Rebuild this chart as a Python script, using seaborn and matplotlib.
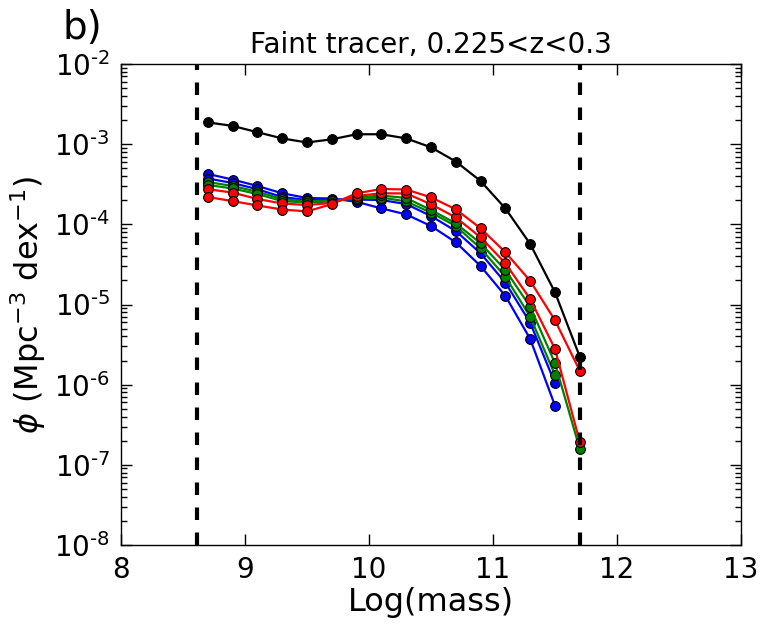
import numpy as np
import pandas as pd
import seaborn as sns
import matplotlib
matplotlib.use("Agg")
import matplotlib.pyplot as plt
import matplotlib.ticker as ticker

# mass bins (log M)
log_mass = [8.7, 8.9, 9.1, 9.3, 9.5, 9.7, 9.9, 10.1, 10.3, 10.5, 10.7, 10.9, 11.1, 11.3, 11.5, 11.7]

# mass functions (Mpc^-3 dex^-1)
phi_all = [1.87e-3, 1.69e-3, 1.41e-3, 1.18e-3, 1.05e-3, 1.15e-3, 1.33e-3, 1.33e-3,
           1.18e-3, 9.14e-4, 6.08e-4, 3.47e-4, 1.58e-4, 5.69e-5, 1.42e-5, 2.23e-6]
phi_blue1 = [4.25e-4, 3.62e-4, 3.01e-4, 2.44e-4, 2.13e-4, 2.10e-4, 1.91e-4, 1.58e-4,
             1.33e-4, 9.53e-5, 5.97e-5, 3.02e-5, 1.28e-5, 3.72e-6, 5.47e-7, np.nan]
phi_blue2 = [3.73e-4, 3.28e-4, 2.74e-4, 2.19e-4, 2.01e-4, 2.04e-4, 2.04e-4, 2.01e-4,
             1.79e-4, 1.27e-4, 8.26e-5, 4.35e-5, 1.87e-5, 5.93e-6, 1.04e-6, np.nan]
phi_green1 = [3.37e-4, 3.01e-4, 2.55e-4, 2.07e-4, 1.93e-4, 1.98e-4, 2.10e-4, 2.16e-4,
              1.93e-4, 1.40e-4, 9.53e-5, 5.02e-5, 2.22e-5, 7.05e-6, 1.32e-6, np.nan]
phi_green2 = [3.10e-4, 2.80e-4, 2.39e-4, 1.95e-4, 1.87e-4, 1.93e-4, 2.16e-4, 2.29e-4,
              2.13e-4, 1.51e-4, 1.03e-4, 5.80e-5, 2.69e-5, 9.39e-6, 1.85e-6, 1.58e-7]
phi_red1 = [2.74e-4, 2.49e-4, 2.07e-4, 1.82e-4, 1.74e-4, 1.85e-4, 2.26e-4, 2.44e-4,
            2.43e-4, 1.78e-4, 1.22e-4, 6.89e-5, 3.27e-5, 1.17e-5, 2.79e-6, 1.93e-7]
phi_red2 = [2.19e-4, 1.95e-4, 1.72e-4, 1.53e-4, 1.45e-4, 1.79e-4, 2.44e-4, 2.76e-4,
            2.72e-4, 2.17e-4, 1.54e-4, 8.93e-5, 4.48e-5, 1.97e-5, 6.35e-6, 1.49e-6]

series_names = ["all", "blue1", "blue2", "green1", "green2", "red1", "red2"]
series_vals = [phi_all, phi_blue1, phi_blue2, phi_green1, phi_green2, phi_red1, phi_red2]
series_cols = ["black", "#0000ff", "#0000ff", "#008000", "#008000", "#ff0000", "#ff0000"]

mass_limits = [8.615, 11.70]
ytick_exps = [-8, -7, -6, -5, -4, -3, -2]

rows = []
for name, vals in zip(series_names, series_vals):
    for m, v in zip(log_mass, vals):
        rows.append({"mass": m, "phi": v, "sample": name})
df = pd.DataFrame(rows).dropna()

sns.set_style("ticks")
plt.rcParams['font.family'] = ['DejaVu Sans']
plt.rcParams['mathtext.fontset'] = 'dejavusans'
plt.rcParams['axes.unicode_minus'] = False
for key in ['text.color', 'axes.labelcolor', 'xtick.color', 'ytick.color', 'axes.edgecolor']:
    plt.rcParams[key] = 'black'

fig = plt.figure(figsize=(7.68, 6.27), dpi=100)
ax = fig.add_axes([0.1576, 0.1308, 0.8072, 0.7671])

sns.lineplot(data=df, x="mass", y="phi", hue="sample", hue_order=series_names,
             palette=dict(zip(series_names, series_cols)), marker="o",
             markersize=7, markeredgecolor="black", markeredgewidth=0.8,
             linewidth=1.6, legend=False, ax=ax, estimator=None)

for xl in mass_limits:
    ax.axvline(xl, color="black", linestyle="--", linewidth=3, dashes=(3, 3))

ax.set_yscale("log")
ax.set_xlim(8, 13)
ax.set_ylim(1e-8, 1e-2)
ax.set_xticks([8, 9, 10, 11, 12, 13])
ax.set_yticks([10.0 ** e for e in ytick_exps])
# plain hyphen in the exponents, like the original
ax.set_yticklabels(["10$^{\\rm{\u2010" + str(abs(e)) + "}}$" for e in ytick_exps])
ax.yaxis.set_minor_locator(ticker.LogLocator(base=10, subs=np.arange(2, 10), numticks=20))
ax.yaxis.set_minor_formatter(ticker.NullFormatter())
ax.tick_params(axis="both", which="major", direction="in", length=8, width=1,
               top=True, right=True, labelsize=20, pad=8)
ax.tick_params(axis="both", which="minor", direction="in", length=4, width=1,
               top=True, right=True)
for sp in ax.spines.values():
    sp.set_linewidth(1)
    sp.set_color("black")

ax.set_xlabel("Log(mass)", fontsize=23, labelpad=2)
ax.set_ylabel(r"$\phi$ (Mpc$^{-3}$ dex$^{-1}$)", fontsize=23, labelpad=4)
ax.set_title("Faint tracer, 0.225<z<0.3", fontsize=20, pad=8)
fig.text(0.082, 0.955, "b)", fontsize=28, ha="left", va="center")

plt.savefig("out.png", dpi=100)
